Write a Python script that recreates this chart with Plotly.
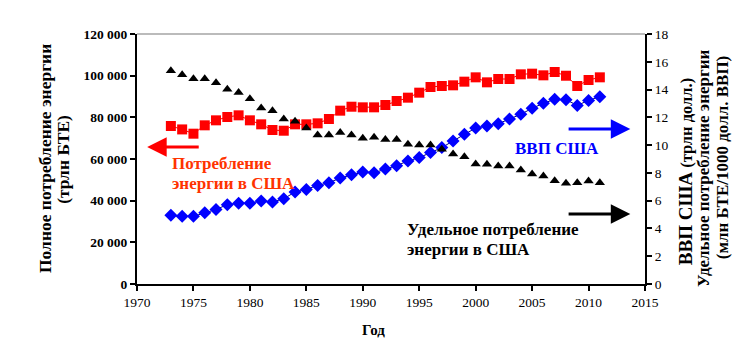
import plotly.graph_objects as go

years = list(range(1973, 2012))
energy = [75840, 74200, 72150, 76160, 78560, 80160, 80960, 78560, 76640, 73920,
          73580, 76640, 76640, 77120, 79200, 83200, 85100, 84800, 84800, 85920,
          87840, 89440, 91840, 94560, 95040, 95360, 97120, 99200, 96800, 98400,
          98400, 100640, 100960, 100160, 101760, 99970, 95040, 97920, 99200]
gdp = [4.95, 4.87, 4.87, 5.13, 5.37, 5.71, 5.81, 5.81, 5.98, 5.90,
       6.14, 6.62, 6.81, 7.10, 7.29, 7.63, 7.87, 8.06, 8.01, 8.28,
       8.52, 8.86, 9.10, 9.46, 9.82, 10.30, 10.78, 11.23, 11.38, 11.54,
       11.88, 12.22, 12.65, 13.01, 13.30, 13.27, 12.86, 13.22, 13.49]
intensity = [15.36, 15.07, 14.78, 14.78, 14.49, 14.02, 13.78, 13.34, 12.67, 12.48,
             11.88, 11.71, 11.23, 10.73, 10.73, 10.90, 10.73, 10.49, 10.56, 10.41,
             10.41, 10.06, 10.01, 10.01, 9.70, 9.36, 9.17, 8.64, 8.62, 8.50,
             8.50, 8.21, 7.92, 7.78, 7.44, 7.25, 7.29, 7.42, 7.29]

x_ticks = list(range(1970, 2016, 5))
left_ticks = [0, 20000, 40000, 60000, 80000, 100000, 120000]
left_labels = ["0", "20 000", "40 000", "60 000", "80 000", "100 000", "120 000"]
right_ticks = list(range(0, 19, 2))

FONT = "Liberation Serif"

fig = go.Figure()
fig.add_trace(go.Scatter(x=years, y=energy, mode="lines+markers",
                         line=dict(color="#FF0000", width=1),
                         marker=dict(symbol="square", size=10, color="#FF0000"),
                         showlegend=False))
fig.add_trace(go.Scatter(x=years, y=gdp, mode="lines+markers", yaxis="y2",
                         line=dict(color="#000080", width=1),
                         marker=dict(symbol="diamond", size=10, color="#0000FF"),
                         showlegend=False))
fig.add_trace(go.Scatter(x=years, y=intensity, mode="markers", yaxis="y2",
                         marker=dict(symbol="triangle-up", size=9, color="#000000"),
                         showlegend=False))

tickfont = dict(family=FONT, size=13.5, color="black")
fig.update_layout(
    width=752, height=349,
    margin=dict(l=137, r=107, t=34, b=65),
    plot_bgcolor="white", paper_bgcolor="white",
    font=dict(family=FONT, color="black"),
    xaxis=dict(range=[1970, 2015], tickvals=x_ticks, showgrid=False, zeroline=False,
               showline=True, linecolor="black", linewidth=2, ticks="outside",
               ticklen=5, tickwidth=2, tickcolor="black",
               tickfont=tickfont, tickprefix="<b>", ticksuffix="</b>"),
    yaxis=dict(range=[0, 120000], tickvals=left_ticks, ticktext=["<b>" + t + "</b>" for t in left_labels],
               showgrid=False, zeroline=False,
               showline=True, linecolor="black", linewidth=2, ticks="outside",
               ticklen=5, tickwidth=2, tickcolor="black", tickfont=tickfont),
    yaxis2=dict(range=[0, 18], tickvals=right_ticks, overlaying="y", side="right",
                showgrid=False, zeroline=False,
                showline=True, linecolor="black", linewidth=2, ticks="outside",
                ticklen=5, tickwidth=2, tickcolor="black", tickfont=tickfont,
                tickprefix="<b>", ticksuffix="</b>"),
)

fig.add_shape(type="line", xref="paper", yref="paper", x0=0, x1=1, y0=1, y1=1,
              line=dict(color="#BBBBBB", width=2))


def label(text, x, y, size, color="black", angle=0, xanchor="center"):
    fig.add_annotation(text="<b>" + text + "</b>", xref="paper", yref="paper",
                       x=x, y=y, xanchor=xanchor, yanchor="middle", textangle=angle,
                       showarrow=False, font=dict(family=FONT, size=size, color=color))


# axis titles
label("Полное потребление энергии", -0.181, 0.50, 17.5, angle=-90)
label("(трлн БТЕ)", -0.146, 0.50, 17.5, angle=-90)
label("<span style='font-size:19px'>ВВП США</span> (трлн долл.)", 1.079, 0.448, 16.5, angle=-90)
label("Удельное потребление энергии", 1.114, 0.464, 17, angle=-90)
label("(млн БТЕ/1000 долл. ВВП)", 1.152, 0.508, 17, angle=-90)
label("Год", 0.465, -0.184, 15)

# series labels
label("Потребление", 0.065, 0.482, 17, "#FF3300", xanchor="left")
label("энергии в США", 0.065, 0.404, 17, "#FF3300", xanchor="left")
label("ВВП США", 0.740, 0.544, 17, "#0000FF", xanchor="left")
label("Удельное потребление", 0.528, 0.218, 17, xanchor="left")
label("энергии в США", 0.528, 0.140, 17, xanchor="left")

# arrows
fig.add_annotation(x=1970.9, y=65760, ax=1975.6, ay=65760, xref="x", yref="y",
                   axref="x", ayref="y", text="", showarrow=True, arrowhead=2,
                   arrowsize=1.3, arrowwidth=3, arrowcolor="#FF0000")
fig.add_annotation(x=2013.7, y=11.16, ax=2008.1, ay=11.16, xref="x", yref="y2",
                   axref="x", ayref="y2", text="", showarrow=True, arrowhead=2,
                   arrowsize=1.3, arrowwidth=3, arrowcolor="#0000FF")
fig.add_annotation(x=2013.7, y=5.04, ax=2008.1, ay=5.04, xref="x", yref="y2",
                   axref="x", ayref="y2", text="", showarrow=True, arrowhead=2,
                   arrowsize=1.3, arrowwidth=3, arrowcolor="#000000")

fig.write_html("out.html")
